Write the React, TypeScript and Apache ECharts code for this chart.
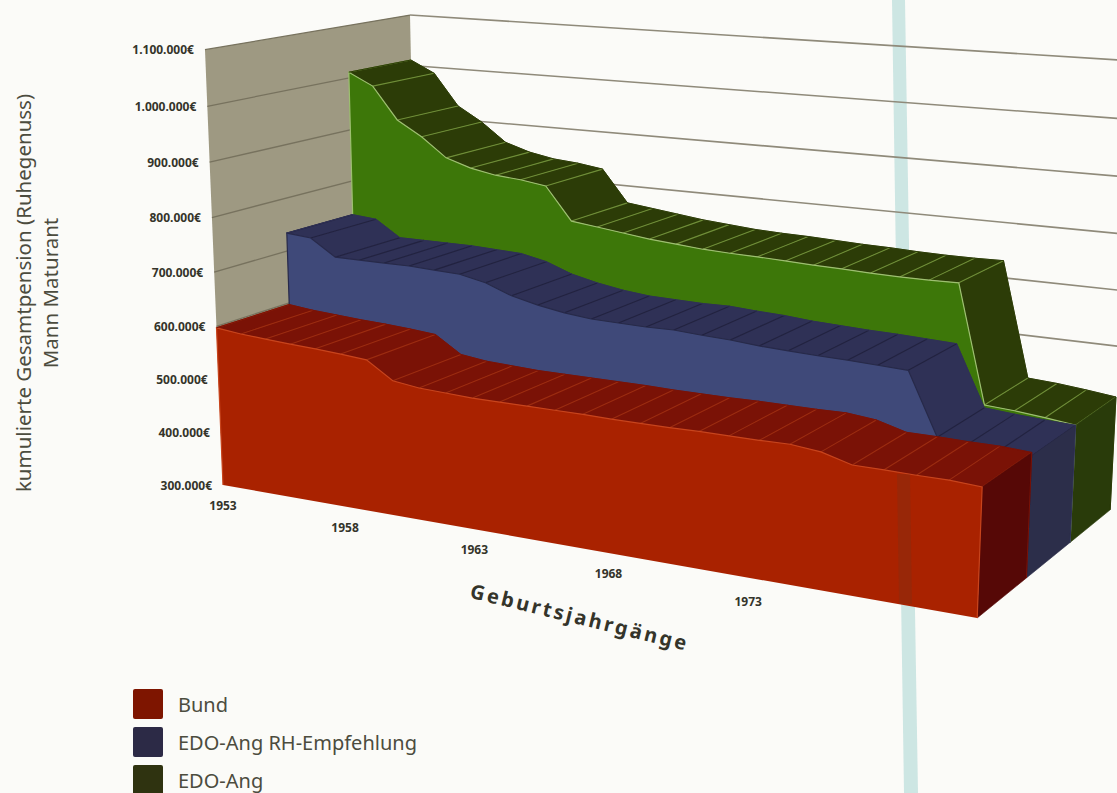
import React, { useEffect, useRef } from "react";
import * as echarts from "echarts";

const years = [1953,1954,1955,1956,1957,1958,1959,1960,1961,1962,1963,1964,1965,1966,1967,1968,1969,1970,1971,1972,1973,1974,1975,1976,1977,1978,1979,1980];
const bund = [597000,592000,589000,586000,584000,581000,577000,546000,540000,538000,536000,536000,536000,536000,536000,535000,535000,535000,536000,536000,536000,537000,532000,518000,518000,517000,517000,514000];
const edoAngRh = [734000,730000,699000,699000,699000,699000,697000,695000,685000,667000,656000,648000,643000,642000,641000,642000,639000,637000,633000,631000,629000,628000,626000,624000,517000,513000,510000,508000];
const edoAng = [1011000,988000,927000,899000,863000,848000,839000,835000,828000,767000,761000,755000,749000,745000,741000,739000,738000,736000,734000,733000,731000,730000,730000,731000,522000,519000,514000,508000];

const xTickYears = [1953, 1958, 1963, 1968, 1973];
const yTickValues = [300000,400000,500000,600000,700000,800000,900000,1000000,1100000];
const yTickLabels = ["300.000€","400.000€","500.000€","600.000€","700.000€","800.000€","900.000€","1.000.000€","1.100.000€"];

const FONT = '"Noto Sans", sans-serif';
const W = 1117, H = 793;

// perspective camera of the 3D chart: X = year steps (0..27), Y = 100k steps (0..8), Z = depth (0..1)
const project = (X: number, Y: number, Z: number): [number, number] => {
  const w = 1 - 0.00556 * X - 0.00543 * Y + 0.1187 * Z;
  return [
    (223 + 22.5 * X - 3.367 * Y + 244.8 * Z) / w,
    (485 + 1.489 * X - 54.68 * Y - 31.4 * Z) / w,
  ];
};

// goes through the (hidden) axes, then through the camera
const toScreen = (api: any, year: number, value: number, Z: number) => {
  const p = api.coord([year, value]);
  return project((p[0] / api.getWidth()) * 27, (1 - p[1] / api.getHeight()) * 8, Z);
};

const bandSeries = (
  name: string,
  values: number[],
  zFront: number,
  zBack: number,
  c: { legend: string; front: string; top: string; side: string; ridge: string; edge: string }
) => ({
  type: "custom",
  name,
  coordinateSystem: "cartesian2d",
  clip: false,
  silent: true,
  itemStyle: { color: c.legend },
  encode: { x: 0, y: 1 },
  data: years.map((y, i) => [y, values[i]]),
  renderItem: (params: any, api: any) => {
    const i = params.dataIndex;
    const last = years.length - 1;
    const children: any[] = [];
    const ptF = (k: number) => toScreen(api, years[k], values[k], zFront);
    const ptB = (k: number) => toScreen(api, years[k], values[k], zBack);
    if (i < last) {
      children.push({
        type: "polygon",
        shape: { points: [ptF(i), ptF(i + 1), ptB(i + 1), ptB(i)] },
        style: { fill: c.top, stroke: c.top, lineWidth: 0.6 },
      });
    }
    children.push({
      type: "line",
      shape: { x1: ptF(i)[0], y1: ptF(i)[1], x2: ptB(i)[0], y2: ptB(i)[1] },
      style: { stroke: c.ridge, lineWidth: 1.1 },
    });
    if (i === last) {
      const bF = toScreen(api, years[last], 300000, zFront);
      const bB = toScreen(api, years[last], 300000, zBack);
      children.push({
        type: "polygon",
        shape: { points: [ptF(last), ptB(last), bB, bF] },
        style: { fill: c.side, stroke: c.side, lineWidth: 0.6 },
      });
      const edge = years.map((_, k) => ptF(k));
      const b0 = toScreen(api, years[0], 300000, zFront);
      children.push({
        type: "polygon",
        shape: { points: [...edge, bF, b0] },
        style: { fill: c.front, stroke: "none" },
      });
      children.push({
        type: "polyline",
        shape: { points: [b0, ...edge, bF] },
        style: { fill: "none", stroke: c.edge, lineWidth: 1.2 },
      });
      const back = years.map((_, k) => ptB(k));
      children.push({
        type: "polyline",
        shape: { points: [edge[0], back[0], ...back.slice(1), bB] },
        style: { fill: "none", stroke: c.top, lineWidth: 1 },
      });
    }
    return { type: "group", children };
  },
});

const wallSeries = {
  type: "custom",
  name: "Wände",
  coordinateSystem: "cartesian2d",
  clip: false,
  silent: true,
  encode: { x: 0, y: 1 },
  data: yTickValues.map((v) => [years[0], v]),
  renderItem: (params: any, api: any) => {
    const i = params.dataIndex;
    const first = years[0];
    const end = years[years.length - 1];
    const v = yTickValues[i];
    const children: any[] = [];
    if (i === 0) {
      const top = yTickValues[yTickValues.length - 1];
      children.push({
        type: "polygon",
        shape: {
          points: [
            toScreen(api, first, v, 0),
            toScreen(api, first, top, 0),
            toScreen(api, first, top, 1),
            toScreen(api, first, v, 1),
          ],
        },
        style: { fill: "#9e9982" },
      });
      xTickYears.forEach((y, k) => {
        const p = toScreen(api, y, v, 0);
        children.push({
          type: "text",
          x: p[0] - [0, 0, 0, 3, 9][k],
          y: p[1] + [20, 21, 20, 20, 22][k],
          style: {
            text: String(y),
            font: `bold 12px ${FONT}`,
            fill: "#34342a",
            align: "center",
            verticalAlign: "middle",
          },
        });
      });
    }
    const a = toScreen(api, first, v, 0);
    const b = toScreen(api, first, v, 1);
    const c = toScreen(api, end, v, 1);
    if (i > 0) {
      children.push({
        type: "line",
        shape: { x1: a[0], y1: a[1], x2: b[0], y2: b[1] },
        style: { stroke: "#77725e", lineWidth: 1.3 },
      });
      children.push({
        type: "line",
        shape: { x1: b[0], y1: b[1], x2: c[0], y2: c[1] },
        style: { stroke: "#8f8a7a", lineWidth: 1.6 },
      });
    }
    children.push({
      type: "text",
      x: a[0] - 11,
      y: a[1],
      style: {
        text: yTickLabels[i],
        font: `bold 12px ${FONT}`,
        fill: "#34342a",
        align: "right",
        verticalAlign: "middle",
      },
    });
    return { type: "group", children };
  },
};

export default function App() {
  const ref = useRef<HTMLDivElement>(null);
  useEffect(() => {
    document.body.style.margin = "0";
    const chart = echarts.init(ref.current!, undefined, { renderer: "svg" });
    chart.setOption({
      animation: false,
      backgroundColor: "#fbfbf8",
      grid: { left: 0, top: 0, right: 0, bottom: 0 },
      xAxis: { type: "value", min: 1953, max: 1980, show: false },
      yAxis: { type: "value", min: 300000, max: 1100000, show: false },
      legend: {
        orient: "vertical",
        left: 133,
        top: 689,
        height: 200,
        padding: 0,
        itemWidth: 30,
        itemHeight: 30,
        itemGap: 8,
        icon: "path://M2 0H28Q30 0 30 2V28Q30 30 28 30H2Q0 30 0 28V2Q0 0 2 0Z",
        selectedMode: false,
        textStyle: { fontFamily: FONT, fontSize: 20, color: "#4c4c3e", padding: [0, 0, 0, 10] },
        data: ["Bund", "EDO-Ang RH-Empfehlung", "EDO-Ang"],
      },
      series: [
        wallSeries,
        bandSeries("EDO-Ang", edoAng, 0.67, 1, {
          legend: "#2f3310", front: "#3d7709", top: "#2c3c07", side: "#293b0a", ridge: "#6f8e38", edge: "#9dbf70",
        }),
        bandSeries("EDO-Ang RH-Empfehlung", edoAngRh, 0.34, 0.67, {
          legend: "#2c2a46", front: "#3f4979", top: "#2f3156", side: "#2c2e4a", ridge: "#222240", edge: "#27294a",
        }),
        bandSeries("Bund", bund, 0, 0.34, {
          legend: "#7e1500", front: "#a92200", top: "#7a1206", side: "#560806", ridge: "#9c2c10", edge: "#c8441c",
        }),
      ],
      graphic: [
        {
          type: "polygon",
          z: 0,
          silent: true,
          shape: { points: [[892, 0], [905, 0], [918, 793], [904, 793]] },
          style: { fill: "#cde6e3" },
        },
        {
          type: "polygon",
          z: 100,
          silent: true,
          shape: { points: [[897, 474], [910, 474], [912, 604], [899, 604]] },
          style: { fill: "rgba(70,70,50,0.16)" },
        },
        {
          type: "text",
          z: 101,
          x: 580,
          y: 617,
          rotation: -0.24,
          style: {
            text: "Geburtsjahrgänge",
            font: `bold 20px ${FONT}`,
            fill: "#34342a",
            align: "center",
            verticalAlign: "middle",
          },
        },
        {
          type: "text",
          z: 101,
          x: 23,
          y: 293,
          rotation: Math.PI / 2,
          style: {
            text: "kumulierte Gesamtpension (Ruhegenuss)",
            font: `20.5px ${FONT}`,
            fill: "#4c4c3e",
            align: "center",
            verticalAlign: "middle",
          },
        },
        {
          type: "text",
          z: 101,
          x: 50,
          y: 293,
          rotation: Math.PI / 2,
          style: {
            text: "Mann Maturant",
            font: `20.5px ${FONT}`,
            fill: "#4c4c3e",
            align: "center",
            verticalAlign: "middle",
          },
        },
      ],
    });
    const spaceTitle = () => {
      ref.current?.querySelectorAll("text").forEach((t) => {
        if (t.textContent === "Geburtsjahrgänge") t.setAttribute("letter-spacing", "2.7px");
      });
    };
    spaceTitle();
    const raf = requestAnimationFrame(spaceTitle);
    return () => {
      cancelAnimationFrame(raf);
      chart.dispose();
    };
  }, []);
  return <div ref={ref} style={{ width: W, height: H, position: "fixed", left: 0, top: 0 }} />;
}
